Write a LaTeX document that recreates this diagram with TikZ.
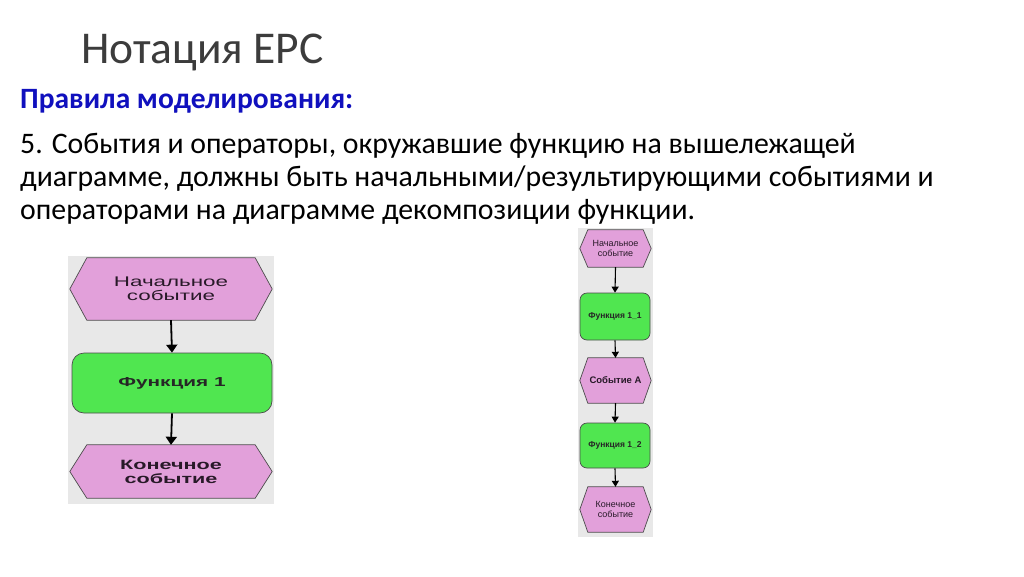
\documentclass[tikz,border=0pt]{standalone}
\usepackage{fontspec}
\setmainfont{Carlito}
\newfontfamily\diafont[FakeStretch=1.6]{Liberation Sans}
\newfontfamily\diasmall{Liberation Sans}
\usetikzlibrary{arrows.meta}
\pgfdeclarelayer{back}
\pgfdeclarelayer{mid}
\pgfsetlayers{back,mid,main}
\definecolor{evpink}{RGB}{226,160,218}
\definecolor{fngreen}{RGB}{80,230,80}
\definecolor{bggray}{RGB}{232,232,232}
\definecolor{ttlblue}{RGB}{16,16,190}
\definecolor{ttlgray}{RGB}{60,60,60}
\definecolor{shtext}{RGB}{40,25,40}
\tikzset{
  txt/.style={anchor=base west, inner sep=0pt},
  evbox/.style={inner sep=0pt, draw=none, align=center, text=shtext},
  fnbox/.style={inner sep=0pt, draw=black!70, line width=0.7pt, fill=fngreen, align=center, text=black!85},
  hexline/.style={draw=black!70, line width=0.7pt, fill=evpink},
  bigarr/.style={line width=1.8pt, -{Triangle[width=11pt,length=8pt]}},
  smallarr/.style={line width=1.1pt, -{Triangle[width=7pt,length=6pt]}},
  bgpanel/.style={fill=bggray, draw=none}
}
\newcommand{\hexof}[2]{%
  \begin{pgfonlayer}{mid}
  \path[hexline] (#1.west) -- ([xshift=#2]#1.north west) -- ([xshift=-#2]#1.north east)
     -- (#1.east) -- ([xshift=-#2]#1.south east) -- ([xshift=#2]#1.south west) -- cycle;
  \end{pgfonlayer}}
\begin{document}
\begin{tikzpicture}[x=1pt,y=-1pt]
\useasboundingbox (0,0) rectangle (1024,576);
\begin{pgfonlayer}{back}
\path[fill=white] (0,0) rectangle (1024,576);
\path[bgpanel] (68,256) rectangle (274,504);
\path[bgpanel] (578,228) rectangle (653,537);
\end{pgfonlayer}

% texts
\node[txt, font=\fontsize{45.5}{50}\selectfont, text=ttlgray] (title) at (81,63) {Нотация EPC};
\node[txt, font=\bfseries\fontsize{29.5}{32}\selectfont, text=ttlblue] (rules) at (20,108) {Правила моделирования:};
\node[txt, font=\fontsize{29.8}{33}\selectfont] (l1) at (20,153) {5. События и операторы, окружавшие функцию на вышележащей};
\node[txt, font=\fontsize{29.8}{33}\selectfont] (l2) at (20,186) {диаграмме, должны быть начальными/результирующими событиями и};
\node[txt, font=\fontsize{29.8}{33}\selectfont] (l3) at (20,219) {операторами на диаграмме декомпозиции функции.};

% left diagram
\node[evbox, minimum width=202pt, minimum height=62pt, font=\diafont\fontsize{14}{14}\selectfont] (ls) at (171,289) {Начальное\\событие};
\hexof{ls}{17pt}
\node[fnbox, rounded corners=12pt, minimum width=200pt, minimum height=60pt, font=\diafont\bfseries\fontsize{13}{14}\selectfont] (lf) at (172,383) {Функция 1};
\node[evbox, minimum width=202pt, minimum height=53pt, font=\diafont\bfseries\fontsize{13.5}{14}\selectfont] (le) at (171,471.5) {Конечное\\событие};
\hexof{le}{17pt}
\draw[bigarr] (ls.south) -- (lf.north);
\draw[bigarr] (lf.south) -- (le.north);

% right diagram
\node[evbox, minimum width=71pt, minimum height=37pt, font=\diasmall\fontsize{9}{10.5}\selectfont] (rs) at (615.5,248.5) {Начальное\\событие};
\hexof{rs}{8pt}
\node[fnbox, rounded corners=7pt, minimum width=70pt, minimum height=47pt, font=\diasmall\bfseries\fontsize{8.5}{10}\selectfont] (rf1) at (615,316.5) {Функция 1\_1};
\node[evbox, minimum width=71pt, minimum height=45pt, font=\diasmall\bfseries\fontsize{9.5}{11}\selectfont] (ra) at (615.5,380.5) {Событие А};
\hexof{ra}{8pt}
\node[fnbox, rounded corners=7pt, minimum width=70pt, minimum height=45pt, font=\diasmall\bfseries\fontsize{8.5}{10}\selectfont] (rf2) at (615,445.5) {Функция 1\_2};
\node[evbox, minimum width=71pt, minimum height=45pt, font=\diasmall\fontsize{9}{10.5}\selectfont] (re) at (615.5,509.5) {Конечное\\событие};
\hexof{re}{8pt}
\draw[smallarr] (rs.south) -- (rf1.north);
\draw[smallarr] (rf1.south) -- (ra.north);
\draw[smallarr] (ra.south) -- (rf2.north);
\draw[smallarr] (rf2.south) -- (re.north);
\end{tikzpicture}
\end{document}
